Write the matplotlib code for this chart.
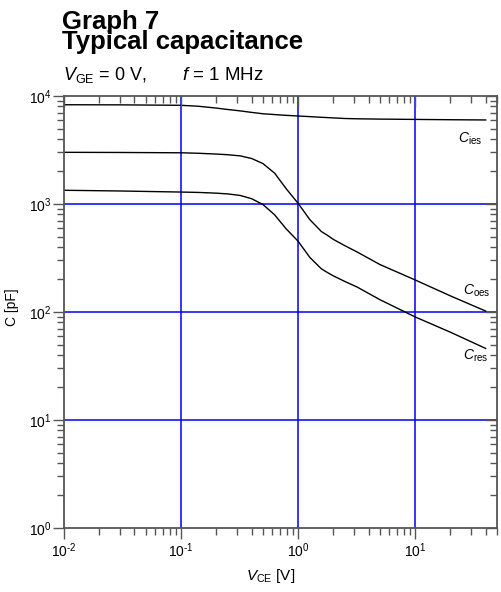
import matplotlib
matplotlib.use("Agg")
import matplotlib.pyplot as plt
from matplotlib.ticker import LogLocator, NullFormatter, FuncFormatter
import math

plt.rcParams['font.family'] = ['Liberation Sans', 'DejaVu Sans']
plt.rcParams['mathtext.fontset'] = 'custom'
plt.rcParams['mathtext.rm'] = 'Liberation Sans'
plt.rcParams['mathtext.it'] = 'Liberation Sans:italic'
plt.rcParams['mathtext.bf'] = 'Liberation Sans:bold'
plt.rcParams['axes.unicode_minus'] = False

# ---- data ----
vce = [0.01, 0.03, 0.1, 0.14, 0.2, 0.25, 0.32, 0.4, 0.5, 0.63, 0.79,
       1.0, 1.26, 1.58, 1.78, 2.0, 2.5, 3.2, 5, 10, 20, 40]
c_ies = [8300, 8280, 8200, 8040, 7730, 7500, 7280, 7050, 6850, 6730, 6620,
         6530, 6440, 6350, 6310, 6270, 6190, 6150, 6110, 6070, 6030, 6000]
c_oes = [3010, 3000, 2980, 2950, 2900, 2860, 2790, 2640, 2370, 1930, 1387,
         1014, 716, 556, 513, 470, 412, 359, 275, 198, 141, 102]
c_res = [1340, 1320, 1290, 1280, 1260, 1240, 1200, 1120, 990, 794, 589,
         452, 320, 251, 232, 216, 192, 170, 130, 90, 65, 46]

curve_labels = ["ies", "oes", "res"]
x_limits = (0.01, 50)
y_limits = (1, 1e4)

W, H = 501, 592
fig = plt.figure(figsize=(W / 100, H / 100), dpi=100)
ax = fig.add_axes([64 / W, 1 - 528 / H, 433 / W, 432 / H])

ax.set_xscale('log')
ax.set_yscale('log')
ax.set_xlim(*x_limits)
ax.set_ylim(*y_limits)

spine_col = '#555555'
for s in ax.spines.values():
    s.set_color(spine_col)
    s.set_linewidth(1.3)
    s.set_zorder(5)


def pow_fmt(v, _pos):
    e = int(round(math.log10(v)))
    es = (r"\text{-}%d" % -e) if e < 0 else "%d" % e
    return r"$10^{%s}$" % es


ax.xaxis.set_major_locator(LogLocator(base=10, numticks=10))
ax.xaxis.set_minor_locator(LogLocator(base=10, subs=range(2, 10), numticks=20))
ax.yaxis.set_major_locator(LogLocator(base=10, numticks=10))
ax.yaxis.set_minor_locator(LogLocator(base=10, subs=range(2, 10), numticks=20))
ax.xaxis.set_major_formatter(FuncFormatter(pow_fmt))
ax.yaxis.set_major_formatter(FuncFormatter(pow_fmt))
ax.xaxis.set_minor_formatter(NullFormatter())
ax.yaxis.set_minor_formatter(NullFormatter())

ax.tick_params(which='major', direction='out', length=8, width=1.0, color=spine_col,
               labelsize=10, pad=2)
ax.tick_params(which='minor', direction='out', length=5, width=1.0, color=spine_col)
ax.tick_params(axis='y', which='major', pad=1)

# mirrored inward ticks on top/right
axr = ax.twinx()
axr.set_yscale('log')
axr.set_ylim(*y_limits)
axr.yaxis.set_major_locator(LogLocator(base=10, numticks=10))
axr.yaxis.set_minor_locator(LogLocator(base=10, subs=range(2, 10), numticks=20))
axr.tick_params(which='major', direction='in', length=8, width=1.0, color=spine_col,
                labelright=False)
axr.tick_params(which='minor', direction='in', length=5, width=1.0, color=spine_col,
                labelright=False)
axt = ax.twiny()
axt.set_xscale('log')
axt.set_xlim(*x_limits)
axt.xaxis.set_major_locator(LogLocator(base=10, numticks=10))
axt.xaxis.set_minor_locator(LogLocator(base=10, subs=range(2, 10), numticks=20))
axt.tick_params(which='major', direction='in', length=8, width=1.0, color=spine_col,
                labeltop=False)
axt.tick_params(which='minor', direction='in', length=5, width=1.0, color=spine_col,
                labeltop=False)
for a in (axr, axt):
    for s in a.spines.values():
        s.set_visible(False)

# blue grid at inner decades
for xv in ax.get_xticks():
    if x_limits[0] < xv < x_limits[1]:
        ax.axvline(xv, color='#0000ff', lw=1.1, zorder=1)
for yv in ax.get_yticks():
    if y_limits[0] < yv < y_limits[1]:
        ax.axhline(yv, color='#0000ff', lw=1.1, zorder=1)

for series in (c_ies, c_oes, c_res):
    ax.plot(vce, series, color='black', lw=1.0, zorder=3, solid_joinstyle='round')

ax.text(23.4, 3670, r"$C_{\mathrm{%s}}$" % curve_labels[0], fontsize=10, ha='left', va='baseline')
ax.text(25.8, 144, r"$C_{\mathrm{%s}}$" % curve_labels[1], fontsize=10, ha='left', va='baseline')
ax.text(25.8, 36, r"$C_{\mathrm{%s}}$" % curve_labels[2], fontsize=10, ha='left', va='baseline')

fig.text(62 / W, 1 - 48.5 / H, "Graph 7\nTypical capacitance", fontsize=18.5,
         fontweight='bold', va='baseline', linespacing=0.76)
fig.text(63 / W, 1 - 80 / H, r"$V_{\mathrm{GE}}$ = 0 V,", fontsize=13, va='baseline')
fig.text(182 / W, 1 - 80 / H, r"$f$ = 1 MHz", fontsize=13.5, va='baseline')

fig.text(271 / W, 1 - 580 / H, r"$V_{\mathrm{CE}}$ [V]", fontsize=11, ha='center', va='baseline')
fig.text(12 / W, 1 - 307 / H, "C [pF]", fontsize=10, rotation=90, ha='center', va='center')

fig.savefig("out.png", dpi=100)
